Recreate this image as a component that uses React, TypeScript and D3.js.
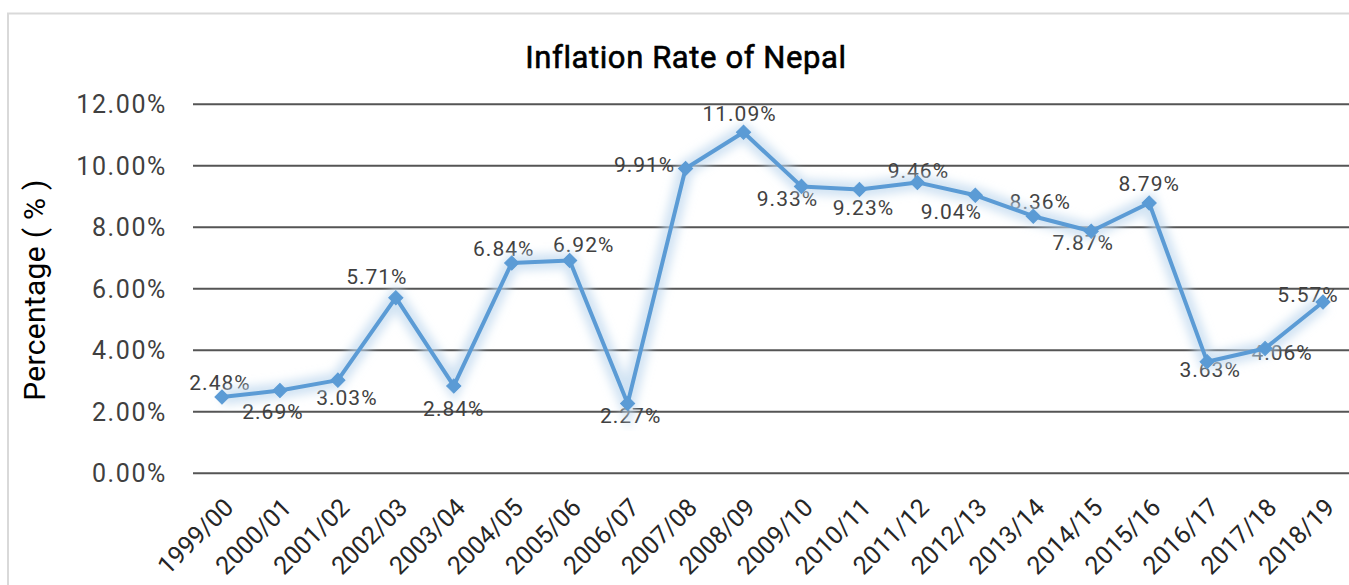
import React from "react";
import * as d3 from "d3";

const categories = [
  "1999/00", "2000/01", "2001/02", "2002/03", "2003/04", "2004/05", "2005/06",
  "2006/07", "2007/08", "2008/09", "2009/10", "2010/11", "2011/12", "2012/13",
  "2013/14", "2014/15", "2015/16", "2016/17", "2017/18", "2018/19",
];
const inflation = [
  2.48, 2.69, 3.03, 5.71, 2.84, 6.84, 6.92, 2.27, 9.91, 11.09, 9.33, 9.23, 9.46,
  9.04, 8.36, 7.87, 8.79, 3.63, 4.06, 5.57,
];
const yTicks = [0, 2, 4, 6, 8, 10, 12];
// data label placement (offset of label centre from point)
const labelOffsets: [number, number][] = [
  [-2, -14], [-7, 21], [9, 18], [-19, -21], [0, 23], [-8, -14], [14, -16],
  [3, 12], [-41, -4], [-4, -19], [-14, 12], [4, 18], [1, -12], [-24, 16],
  [7, -15], [-8, 11], [0, -19], [3, 8], [17, 4], [-15, -7],
];

const W = 1349;
const H = 585;
const FONT = "Roboto, 'Noto Sans', sans-serif";

export default function App() {
  const x = d3.scaleBand<string>().domain(categories).range([193, 1352]).padding(0);
  const y = d3.scaleLinear().domain([0, 12]).range([473.3, 104.3]);
  const cx = (i: number) => (x(categories[i]) as number) + x.bandwidth() / 2;

  const line = d3
    .line<number>()
    .x((_, i) => cx(i))
    .y((d) => y(d));
  const pathD = line(inflation) || "";
  const marker = d3.symbol().type(d3.symbolSquare).size(100)() || "";

  return (
    <svg
      width={W}
      height={H}
      style={{ position: "absolute", left: 0, top: 0, background: "#fff" }}
      fontFamily={FONT}
    >
      <defs>
        <filter id="glow" x="-10%" y="-10%" width="120%" height="120%">
          <feGaussianBlur stdDeviation="5" />
        </filter>
      </defs>
      <rect x={8} y={13.5} width={W + 20} height={H + 20} fill="#fff" stroke="#d9d9d9" strokeWidth={2} />

      <text
        x={686}
        y={68}
        textAnchor="middle"
        fontSize={31}
        fontWeight={400}
        letterSpacing={0.6}
        fill="#000"
        stroke="#000"
        strokeWidth={0.6}
      >
        Inflation Rate of Nepal
      </text>

      {yTicks.map((t) => (
        <g key={t}>
          <line x1={193} x2={1352} y1={y(t)} y2={y(t)} stroke="#555" strokeWidth={2} />
          <text
            x={167}
            y={y(t)}
            dy="0.35em"
            textAnchor="end"
            fontSize={25}
            letterSpacing={1.6}
            fill="#404040"
          >
            {d3.format(".2f")(t)}%
          </text>
        </g>
      ))}

      <text
        transform="translate(45,290) rotate(-90)"
        textAnchor="middle"
        fontSize={30}
        letterSpacing={0.3}
        fill="#000"
      >
        Percentage ( % )
      </text>

      {categories.map((c, i) => (
        <text
          key={c}
          transform={`translate(${cx(i) + 13},509) rotate(-45)`}
          textAnchor="end"
          fontSize={25}
          fill="#262626"
        >
          {c}
        </text>
      ))}

      {inflation.map((v, i) => (
        <text
          key={"l" + i}
          x={cx(i) + labelOffsets[i][0]}
          y={y(v) + labelOffsets[i][1]}
          dy="0.35em"
          textAnchor="middle"
          fontSize={21}
          letterSpacing={1}
          fill="#404040"
        >
          {d3.format(".2f")(v)}%
        </text>
      ))}

      <path d={pathD} fill="none" stroke="#bdd7ee" strokeOpacity={0.7} strokeWidth={16} filter="url(#glow)" />
      <path d={pathD} fill="none" stroke="#5b9bd5" strokeWidth={4} strokeLinejoin="round" />
      {inflation.map((v, i) => (
        <path
          key={"m" + i}
          d={marker}
          transform={`translate(${cx(i)},${y(v)}) rotate(45)`}
          fill="#5b9bd5"
          stroke="#5b9bd5"
          strokeWidth={1}
        />
      ))}
    </svg>
  );
}
